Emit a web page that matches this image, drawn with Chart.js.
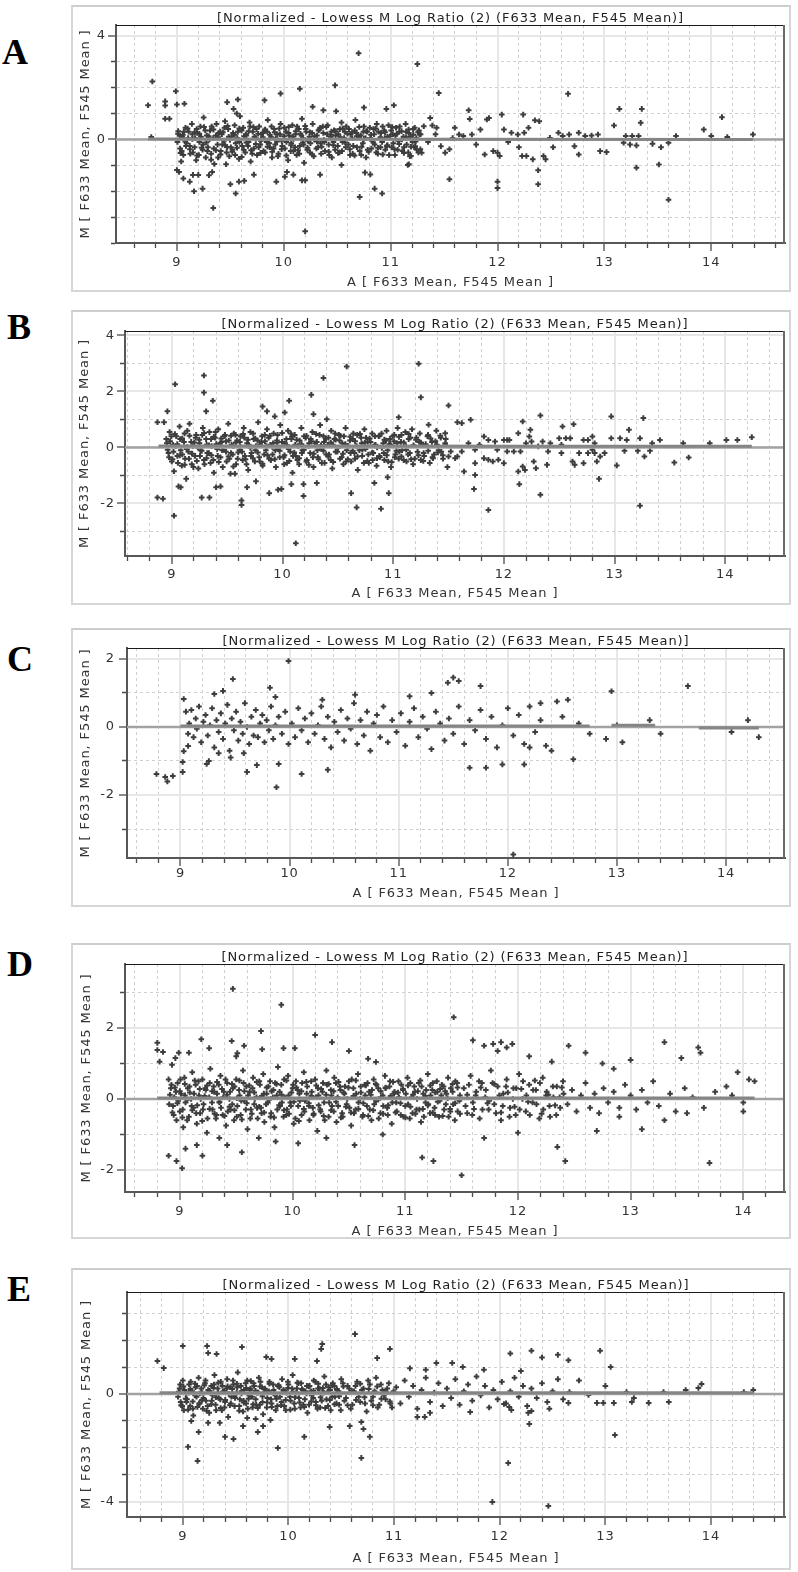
<!DOCTYPE html>
<html>
<head>
<meta charset="utf-8">
<script src="https://cdn.jsdelivr.net/npm/chart.js@4.4.1/dist/chart.umd.min.js"></script>
<style>
  html, body { margin: 0; padding: 0; background: #fff; }
  body { width: 798px; height: 1572px; position: relative; overflow: hidden; }
  .panel { position: absolute; left: 71px; width: 720px; }
  .panel canvas { position: absolute; left: 0; top: 0; }
  .frame { position: absolute; left: 0; top: 0; right: 0; bottom: 0; box-sizing: border-box;
           border: 2px solid #d6d6d6; border-top-color: #cdcdcd; pointer-events: none; }
  .letter { position: absolute; font: bold 36px "Liberation Serif", "Times New Roman", serif; line-height: 1; color: #000; }
</style>
</head>
<body>
<script>
// MA plots, five arrays (A-E): x = A value, y = M value
const TITLE = "[Normalized - Lowess M Log Ratio (2) (F633 Mean, F545 Mean)]";
const X_TITLE = "A [ F633 Mean, F545 Mean ]";
const Y_TITLE = "M [ F633 Mean, F545 Mean ]";
const panelLetters = ["A", "B", "C", "D", "E"];
const xTickLabels = [9, 10, 11, 12, 13, 14];
const yTickLabels = [[4, 0], [4, 2, 0, -2], [2, 0, -2, -4], [2, 0, -2], [0, -4]];
const xRanges = [[8.43, 14.69], [8.577, 14.54], [8.51, 14.54], [8.513, 14.37], [8.472, 14.7]];
const yRanges = [[-4, 4.42], [-3.875, 4.16], [-3.85, 2.32], [-2.62, 3.8], [-4.56, 3.78]];

const pointsA = [
  [8.73,1.32],[8.77,2.24],[8.76,0.09],[8.89,1.47],[8.89,1.31],[8.89,0.8],[8.93,0.8],[8.99,1.86],[9.0,1.35],[9.07,1.38],
  [9.47,1.44],[9.57,1.54],[9.53,1.18],[9.56,1.0],[9.82,1.51],[9.97,1.77],[10.15,1.96],[10.48,2.09],[10.7,3.33],[11.25,2.91],
  [10.27,1.26],[10.37,1.13],[10.49,1.09],[10.75,1.23],[10.96,1.18],[11.03,1.32],[11.45,1.79],[11.73,1.13],[12.66,1.76],
  [13.14,1.18],[13.35,1.18],[13.34,0.64],[13.09,0.54],[14.1,0.86],[13.93,0.38],[14.39,0.19],[14.15,0.09],[14.0,0.13],[13.67,0.13],
  [12.24,0.96],[12.04,0.96],[11.92,0.83],[12.39,0.7],[12.35,0.74],
  [9.0,-1.18],[9.02,-1.26],[9.06,-1.51],[9.12,-1.63],[9.15,-1.37],[9.2,-1.37],[9.16,-2.0],[9.24,-1.9],[9.3,-1.38],[9.33,-1.26],
  [9.34,-2.65],[9.46,-0.96],[9.5,-1.73],[9.55,-2.09],[9.58,-1.63],[9.63,-1.6],[9.72,-1.36],[9.93,-1.63],[10.01,-1.44],[10.03,-1.26],
  [10.09,-1.36],[10.17,-1.58],[10.2,-1.58],[10.2,-3.55],[10.34,-1.36],[10.54,-0.99],[10.71,-2.22],[10.76,-1.28],[10.81,-1.35],
  [10.85,-1.9],[10.92,-2.09],[11.16,-0.99],[11.55,-1.54],[12.0,-1.63],[12.0,-1.88],[12.38,-1.19],[12.38,-1.73],[13.02,-0.49],
  [13.3,-1.09],[13.51,-0.97],[13.6,-2.33],[13.6,-0.13],
  [13.2,0.13],[13.26,0.13],[13.32,0.13],[13.18,-0.13],[13.24,-0.2],[13.3,-0.23],[13.45,-0.17],[13.53,-0.3],[12.76,0.26],[12.82,0.13],
  [12.88,0.15],[12.94,0.19],[12.76,-0.58],[12.96,-0.45],[12.72,-0.26],[12.61,0.13],[12.67,0.19],[12.57,0.26],[12.49,0.06],[12.45,-0.77],
  [12.43,-0.64],[12.33,-0.77],[12.27,-0.64],[12.23,-0.64],[12.29,0.45],[12.25,0.26],[12.19,0.19],[12.13,0.26],[12.06,0.38],[12.0,-0.51],
  [12.02,-0.64],[11.96,-0.45],[11.88,-0.58],[11.84,0.38],[11.9,0.77],[11.74,0.79],[11.76,0.19],[11.68,0.13],[11.64,0.19],[11.6,0.45],
  [11.55,-0.38],[11.51,-0.51],[11.47,-0.26],[11.43,0.45],[11.39,0.54],[11.37,0.83],[11.31,0.51],[11.27,0.19],[11.29,-0.51],[11.23,-0.26],
  [11.19,-0.64],[11.17,-0.96],[12.1,-0.1],[12.52,-0.3],[11.8,-0.2],[11.58,0.05],[11.35,-0.1],[11.42,0.2],[12.2,-0.3],
  [9.01,0.22],[9.03,-0.35],[9.05,0.1],[9.06,-0.6],[9.08,0.45],[9.09,-0.15],[9.04,-0.85],
  [9.11,0.3],[9.12,-0.25],[9.14,0.6],[9.15,-0.5],[9.17,0.05],[9.18,-0.8],[9.19,0.25],
  [9.21,-0.1],[9.22,0.5],[9.24,-0.4],[9.25,0.85],[9.27,-0.7],[9.28,0.15],[9.29,-0.3],
  [9.31,0.35],[9.32,-0.55],[9.34,0.05],[9.35,-0.95],[9.37,0.6],[9.38,-0.2],[9.39,0.25],
  [9.41,-0.45],[9.42,0.2],[9.44,-0.05],[9.45,0.7],[9.47,-0.3],[9.48,0.4],[9.49,-0.65],
  [9.51,0.1],[9.52,-0.4],[9.54,0.55],[9.55,-0.15],[9.57,0.3],[9.58,-0.75],[9.59,0.9],
  [9.61,-0.25],[9.62,0.45],[9.64,-0.5],[9.65,0.15],[9.67,-0.1],[9.68,0.65],[9.69,-0.85],
  [9.71,0.3],[9.72,-0.35],[9.74,0.05],[9.75,-0.6],[9.77,0.5],[9.78,-0.2],[9.79,0.2],
  [9.81,-0.45],[9.82,0.35],[9.84,-0.1],[9.85,0.75],[9.87,-0.3],[9.88,0.1],[9.89,-0.7],
  [9.91,0.4],[9.92,-0.2],[9.94,0.2],[9.95,-0.55],[9.97,0.6],[9.98,-0.05],
  [10.01,-0.35],[10.02,0.3],[10.04,-0.8],[10.05,0.15],[10.07,-0.15],[10.08,0.55],[10.09,-0.45],
  [10.11,0.2],[10.12,-0.6],[10.14,0.4],[10.15,-0.25],[10.17,0.8],[10.18,0.05],[10.19,-0.9],
  [10.21,0.3],[10.22,-0.4],[10.24,0.1],[10.25,-0.15],[10.27,0.6],[10.28,-0.65],
  [10.31,0.15],[10.32,-0.3],[10.34,0.45],[10.35,-0.55],[10.37,0.25],[10.38,-0.1],
  [10.41,0.55],[10.42,-0.2],[10.44,0.1],[10.45,-0.7],[10.47,0.35],[10.48,-0.4],
  [10.51,0.2],[10.52,-0.5],[10.54,0.65],[10.55,-0.1],[10.57,0.3],[10.58,-0.3],
  [10.61,0.4],[10.62,-0.6],[10.64,0.05],[10.65,-0.25],[10.67,0.75],[10.68,0.25],
  [10.71,-0.45],[10.72,0.15],[10.74,-0.15],[10.75,0.5],[10.77,-0.7],[10.78,0.3],
  [10.81,0.05],[10.82,-0.35],[10.84,0.4],[10.85,-0.2],[10.87,0.6],[10.88,-0.55],
  [10.91,0.25],[10.92,-0.1],[10.94,0.35],[10.95,-0.4],[10.97,0.1],[10.98,0.55],
  [11.01,-0.3],[11.02,0.2],[11.04,-0.6],[11.05,0.45],[11.07,-0.05],[11.08,0.3],
  [11.11,-0.45],[11.12,0.1],[11.14,0.6],[11.15,-0.2],[11.17,0.25],[11.18,-0.65],
  [11.21,0.4],[11.22,-0.3],[11.24,0.05],[11.26,-0.5],[11.28,0.2]
];
const denseA = [
  [9.005,-0.1],[9.025,0.15],[9.045,-0.45],[9.065,0.3],[9.085,-0.25],[9.105,0.05],[9.125,-0.55],[9.145,0.2],[9.165,-0.3],[9.185,0.4],
  [9.205,-0.6],[9.225,0.1],[9.245,-0.2],[9.265,0.35],[9.285,-0.45],[9.305,0.0],[9.325,0.5],[9.345,-0.35],[9.365,0.15],[9.385,-0.7],
  [9.405,0.3],[9.425,-0.2],[9.445,0.45],[9.465,-0.5],[9.485,0.1],[9.505,-0.3],[9.525,0.25],[9.545,-0.6],[9.565,0.05],[9.585,-0.1],
  [9.605,0.35],[9.625,-0.4],[9.645,0.2],[9.665,-0.25],[9.685,0.5],[9.705,-0.55],[9.725,0.1],[9.745,0.4],[9.765,-0.3],[9.785,-0.05],
  [9.805,0.25],[9.825,-0.5],[9.845,0.3],[9.865,-0.15],[9.885,0.5],[9.905,-0.35],[9.925,0.05],[9.945,-0.65],[9.965,0.2],[9.985,-0.25],
  [10.005,0.45],[10.025,-0.1],[10.045,0.25],[10.065,-0.45],[10.085,0.1],[10.105,-0.3],[10.125,0.5],[10.145,-0.55],[10.165,0.15],[10.185,-0.2],
  [10.205,0.4],[10.225,-0.05],[10.245,-0.5],[10.265,0.25],[10.285,0.0],[10.305,-0.35],[10.325,0.35],[10.345,-0.15],[10.365,0.5],[10.385,-0.45],
  [10.405,0.2],[10.425,-0.6],[10.445,0.3],[10.465,-0.1],[10.485,0.15],[10.505,-0.25],[10.525,0.4],[10.545,-0.45],[10.565,0.05],[10.585,0.5],
  [10.605,-0.2],[10.625,0.2],[10.645,-0.55],[10.665,0.35],[10.685,-0.3],[10.705,0.1],[10.725,-0.6],[10.745,0.3],[10.765,0.05],[10.785,-0.4],
  [10.805,0.45],[10.825,-0.05],[10.845,0.2],[10.865,-0.5],[10.885,0.3],[10.905,-0.3],[10.925,0.5],[10.945,0.05],[10.965,-0.25],[10.985,-0.6],
  [11.005,0.35],[11.025,-0.15],[11.045,0.15],[11.065,-0.4],[11.085,0.5],[11.105,0.0],[11.125,-0.3],[11.145,0.3],[11.165,-0.5],[11.185,0.1],
  [11.205,-0.1],[11.225,0.45],[11.245,-0.4],[11.265,0.35],
  [9.012,0.32],[9.034,-0.52],[9.056,0.18],[9.078,-0.08],[9.1,0.42],[9.122,-0.38],[9.144,0.02],[9.166,0.28],[9.188,-0.62],[9.21,0.22],
  [9.232,-0.32],[9.254,0.48],[9.276,-0.12],[9.298,0.12],[9.32,-0.78],[9.342,0.38],[9.364,-0.42],[9.386,0.08],[9.408,-0.58],[9.43,0.28],
  [9.452,-0.22],[9.474,0.52],[9.496,-0.02],[9.518,-0.48],[9.54,0.18],[9.562,-0.32],[9.584,0.42],[9.606,-0.68],[9.628,0.12],[9.65,-0.12],
  [9.672,0.32],[9.694,-0.42],[9.716,0.48],[9.738,-0.18],[9.76,0.22],[9.782,-0.52],[9.804,0.08],[9.826,0.38],[9.848,-0.28],[9.87,0.18],
  [9.892,-0.48],[9.914,0.28],[9.936,-0.08],[9.958,0.42],[9.98,-0.38],[10.002,0.12],[10.024,-0.62],[10.046,0.48],[10.068,-0.22],[10.09,0.02],
  [10.112,0.32],[10.134,-0.42],[10.156,0.22],[10.178,-0.12],[10.2,0.52],[10.222,-0.32],[10.244,0.28],[10.266,-0.58],[10.288,0.12],[10.31,-0.08],
  [10.332,0.38],[10.354,-0.28],[10.376,-0.02],[10.398,0.48],[10.42,-0.48],[10.442,0.18],[10.464,-0.22],[10.486,0.32],[10.508,-0.52],[10.53,0.08],
  [10.552,0.42],[10.574,-0.12],[10.596,0.22],[10.618,-0.38],[10.64,0.28],[10.662,-0.62],[10.684,0.12],[10.706,0.48],[10.728,-0.28],[10.75,0.02],
  [10.772,0.32],[10.794,-0.48],[10.816,0.18],[10.838,-0.12],[10.86,0.42],[10.882,-0.32],[10.904,0.08],[10.926,-0.58],[10.948,0.28],[10.97,-0.22],
  [10.992,0.12],[11.014,0.48],[11.036,-0.38],[11.058,0.22],[11.08,-0.18],[11.102,0.32],[11.124,-0.52],[11.146,0.08],[11.168,0.38],[11.19,-0.28],
  [11.212,0.18],[11.234,-0.08],[11.256,0.28],[11.278,-0.38]
];

const pointsB = [
  [8.87,0.9],[8.93,0.9],[8.96,1.29],[9.03,2.26],[8.87,-1.79],[8.92,-1.83],[9.02,-2.44],[9.06,-1.39],[9.08,-1.42],[9.13,-1.12],
  [9.29,2.57],[9.29,1.96],[9.31,1.29],[9.37,1.67],[9.27,-1.79],[9.34,-1.79],[9.4,-1.42],[9.44,-1.39],[9.53,-0.94],[9.57,-0.94],
  [9.63,-1.89],[9.63,-2.05],[9.68,-1.42],[9.76,-1.21],[9.82,1.46],[9.86,1.29],[9.88,-1.63],[9.93,1.11],[9.96,-1.51],[9.99,-1.48],
  [10.02,1.25],[10.06,1.67],[10.08,-1.31],[10.12,-3.42],[10.19,-1.73],[10.19,-1.31],[10.26,1.88],[10.28,1.19],[10.31,-1.27],[10.37,2.48],
  [10.4,1.01],[10.58,2.89],[10.62,-1.63],[10.67,-2.14],[10.83,-1.27],[10.89,-2.19],[10.95,-1.06],[10.96,-1.63],[11.05,1.08],[11.23,2.99],
  [11.25,1.79],[11.32,0.81],[11.5,1.5],[11.62,0.87],[11.7,0.99],[11.73,-1.48],[11.74,-0.98],[11.86,-2.23],[12.14,-1.31],[12.17,0.93],
  [12.24,0.63],[12.33,1.14],[12.33,-1.69],[12.53,0.75],[12.63,0.83],[12.86,-1.12],[12.97,1.11],[13.02,-0.64],[13.13,0.63],[13.23,-2.08],
  [13.26,1.05],[13.54,-0.54],[13.67,-0.36],[14.01,0.27],[14.11,0.27],[14.24,0.37],[13.86,0.15],[13.62,0.15],[13.41,0.27],[13.34,0.15],
  [13.23,0.33],[13.11,0.27],[13.05,0.33],[12.97,0.33],[13.27,-0.32],[13.21,-0.12],[13.32,-0.12],[13.09,-0.12],[12.91,-0.2],[12.87,-0.32],
  [12.84,-0.5],[12.82,-0.2],
  [11.58,0.9],[11.47,0.51],[11.5,-0.32],[11.56,-0.38],[11.52,-0.14],[11.64,-0.86],[11.82,0.39],[11.86,0.27],[11.92,0.21],[12.0,0.27],
  [12.03,0.27],[12.05,0.27],[11.94,-0.08],[12.03,-0.14],[12.09,-0.14],[12.15,-0.14],[11.9,-0.5],[11.86,-0.44],[11.95,-0.44],[12.0,-0.56],
  [12.13,-0.86],[12.17,-0.68],[12.19,-0.8],[12.29,-0.74],[12.27,-0.5],[12.39,-0.62],[12.4,-0.14],[12.42,0.15],[12.5,0.33],[12.56,0.33],
  [12.6,0.33],[12.52,0.1],[12.62,-0.5],[12.64,-0.62],[12.72,-0.56],[12.72,0.27],[12.76,0.27],[12.8,0.39],[12.82,0.15],[12.68,-0.2],
  [12.76,-0.2],[12.8,-0.08],[12.52,-0.2],[12.23,0.39],[12.2,0.15],[12.25,0.21],[12.35,0.21],[12.31,0.04],[12.13,0.51],[11.74,-0.08],
  [11.68,0.15],[11.78,0.1],[11.62,-0.14],[11.58,-0.32],[11.82,-0.38],[11.74,-0.56],
  [8.95,0.3],[8.97,-0.2],[8.98,0.55],[9.0,-0.5],[9.01,0.1],[9.02,-0.85],[9.04,0.4],[9.05,-0.3],[9.07,0.75],[9.08,-0.1],[9.09,-0.65],
  [9.11,0.2],[9.12,-0.4],[9.14,0.6],[9.15,-0.15],[9.16,0.85],[9.18,-0.6],[9.19,0.05],
  [9.21,-0.3],[9.22,0.45],[9.24,-0.75],[9.25,0.15],[9.26,-0.1],[9.28,0.7],[9.29,-0.45],
  [9.31,0.3],[9.32,-0.2],[9.34,0.55],[9.35,-0.55],[9.36,0.05],[9.38,-0.9],[9.39,0.35],
  [9.41,-0.05],[9.42,0.65],[9.44,-0.35],[9.45,0.2],[9.46,-0.7],[9.48,0.45],[9.49,-0.15],
  [9.51,0.85],[9.52,-0.4],[9.54,0.1],[9.55,-0.25],[9.56,0.5],[9.58,-0.6],[9.59,0.25],
  [9.61,-0.1],[9.62,0.4],[9.64,-0.45],[9.65,0.7],[9.66,-0.3],[9.68,0.15],[9.69,-0.8],
  [9.71,0.55],[9.72,-0.2],[9.74,0.3],[9.75,-0.5],[9.76,0.05],[9.78,0.9],[9.79,-0.35],
  [9.81,0.2],[9.82,-0.65],[9.84,0.45],[9.85,-0.1],[9.86,0.65],[9.88,-0.4],[9.89,0.1],
  [9.91,-0.25],[9.92,0.5],[9.94,-0.7],[9.95,0.25],[9.96,-0.05],[9.98,0.8],
  [10.01,-0.35],[10.02,0.15],[10.04,-0.55],[10.05,0.6],[10.07,-0.15],[10.08,0.3],[10.09,-0.9],
  [10.11,0.45],[10.12,-0.3],[10.14,0.05],[10.15,-0.6],[10.17,0.7],[10.18,-0.1],
  [10.21,0.35],[10.22,-0.45],[10.24,0.15],[10.25,-0.2],[10.27,0.55],[10.28,-0.7],
  [10.31,0.2],[10.32,-0.35],[10.34,0.8],[10.35,-0.05],[10.37,0.4],[10.38,-0.55],
  [10.41,0.1],[10.42,-0.25],[10.44,0.6],[10.45,-0.75],[10.47,0.3],[10.48,-0.15],
  [10.51,0.45],[10.52,-0.4],[10.54,0.15],[10.55,-0.6],[10.57,0.7],[10.58,-0.1],
  [10.61,0.25],[10.62,-0.5],[10.64,0.5],[10.65,-0.2],[10.67,0.05],[10.68,-0.8],
  [10.71,0.35],[10.72,-0.3],[10.74,0.65],[10.75,-0.05],[10.77,0.2],[10.78,-0.55],
  [10.81,0.5],[10.82,-0.2],[10.84,0.1],[10.85,-0.65],[10.87,0.4],[10.88,-0.35],
  [10.91,0.15],[10.92,-0.45],[10.94,0.6],[10.95,-0.1],[10.97,0.3],[10.98,-0.7],
  [11.01,0.45],[11.02,-0.25],[11.04,0.7],[11.05,-0.4],[11.07,0.2],[11.08,-0.1],
  [11.11,0.55],[11.12,-0.5],[11.14,0.3],[11.15,-0.2],[11.17,0.65],[11.18,-0.6],
  [11.21,0.35],[11.22,-0.15],[11.24,0.5],[11.25,-0.45],[11.27,0.1],[11.28,-0.3],
  [11.31,0.4],[11.33,-0.55],[11.35,0.2],[11.37,-0.25],[11.39,0.6],
  [11.41,-0.1],[11.43,0.35],[11.45,-0.4],[11.47,0.15],[11.49,-0.7]
];
const denseB = [
  [8.955,0.15],[8.975,-0.35],[8.995,0.4],[9.015,-0.15],[9.035,0.05],[9.055,-0.55],[9.075,0.3],[9.095,-0.25],[9.115,0.5],[9.135,-0.05],
  [9.155,-0.4],[9.175,0.2],[9.195,-0.7],[9.215,0.35],[9.235,0.0],[9.255,-0.3],[9.275,0.45],[9.295,-0.6],[9.315,0.1],[9.335,-0.2],
  [9.355,0.3],[9.375,-0.45],[9.395,0.55],[9.415,-0.3],[9.435,0.15],[9.455,-0.1],[9.475,0.4],[9.495,-0.5],[9.515,0.25],[9.535,-0.2],
  [9.555,0.05],[9.575,0.45],[9.595,-0.4],[9.615,0.2],[9.635,-0.15],[9.655,0.35],[9.675,-0.6],[9.695,0.1],[9.715,-0.3],[9.735,0.5],
  [9.755,-0.1],[9.775,0.25],[9.795,-0.5],[9.815,0.4],[9.835,-0.25],[9.855,0.05],[9.875,0.35],[9.895,-0.45],[9.915,0.15],[9.935,-0.1],
  [9.955,0.45],[9.975,-0.35],[9.995,0.2],[10.015,-0.6],[10.035,0.3],[10.055,-0.05],[10.075,0.5],[10.095,-0.3],[10.115,0.1],[10.135,-0.45],
  [10.155,0.25],[10.175,-0.2],[10.195,0.4],[10.215,-0.5],[10.235,0.05],[10.255,0.3],[10.275,-0.35],[10.295,0.15],[10.315,-0.1],[10.335,0.45],
  [10.355,-0.55],[10.375,0.2],[10.395,-0.25],[10.415,0.35],[10.435,-0.45],[10.455,0.1],[10.475,0.5],[10.495,-0.15],[10.515,0.25],[10.535,-0.35],
  [10.555,0.4],[10.575,-0.5],[10.595,0.05],[10.615,-0.2],[10.635,0.3],[10.655,-0.4],[10.675,0.45],[10.695,-0.1],[10.715,0.15],[10.735,-0.55],
  [10.755,0.35],[10.775,-0.25],[10.795,0.2],[10.815,-0.45],[10.835,0.4],[10.855,0.0],[10.875,-0.3],[10.895,0.5],[10.915,-0.2],[10.935,0.25],
  [10.955,-0.5],[10.975,0.1],[10.995,0.4],[11.015,-0.35],[11.035,0.15],[11.055,-0.15],[11.075,0.45],[11.095,-0.45],[11.115,0.05],[11.135,-0.25],
  [11.155,0.35],[11.195,-0.4],[11.235,0.2],[11.275,-0.2],[11.315,0.45],[11.355,-0.35],[11.395,0.1],[11.435,-0.15],[11.475,0.3],
  [8.962,-0.08],[8.984,0.22],[9.006,-0.42],[9.028,0.48],[9.05,0.12],[9.072,-0.28],[9.094,0.32],[9.116,-0.62],[9.138,0.02],[9.16,0.42],
  [9.182,-0.22],[9.204,0.18],[9.226,-0.48],[9.248,0.28],[9.27,-0.12],[9.292,0.52],[9.314,-0.38],[9.336,0.08],[9.358,-0.28],[9.38,0.38],
  [9.402,0.12],[9.424,-0.52],[9.446,0.32],[9.468,-0.08],[9.49,0.22],[9.512,-0.32],[9.534,0.42],[9.556,-0.68],[9.578,0.18],[9.6,-0.18],
  [9.622,0.02],[9.644,0.48],[9.666,-0.42],[9.688,0.28],[9.71,-0.02],[9.732,-0.38],[9.754,0.32],[9.776,-0.18],[9.798,0.12],[9.82,-0.58],
  [9.842,0.22],[9.864,-0.28],[9.886,0.42],[9.908,0.02],[9.93,-0.42],[9.952,0.18],[9.974,-0.12],[9.996,0.52],[10.018,-0.28],[10.04,0.08],
  [10.062,-0.48],[10.084,0.38],[10.106,-0.18],[10.128,0.28],[10.15,-0.38],[10.172,0.12],[10.194,-0.08],[10.216,0.42],[10.238,-0.62],[10.26,0.22],
  [10.282,-0.22],[10.304,0.48],[10.326,-0.42],[10.348,0.08],[10.37,-0.12],[10.392,0.32],[10.414,-0.32],[10.436,0.18],[10.458,-0.52],[10.48,0.28],
  [10.502,-0.02],[10.524,0.42],[10.546,-0.22],[10.568,0.12],[10.59,-0.42],[10.612,0.38],[10.634,-0.12],[10.656,0.22],[10.678,-0.32],[10.7,0.48],
  [10.722,-0.08],[10.744,0.18],[10.766,-0.48],[10.788,0.32],[10.81,-0.18],[10.832,0.08],[10.854,-0.38],[10.876,0.42],[10.898,-0.02],[10.92,0.28],
  [10.942,-0.28],[10.964,0.12],[10.986,-0.52],[11.008,0.22],[11.03,-0.12],[11.052,0.38],[11.074,-0.32],[11.096,0.18],[11.118,-0.08],[11.14,0.48],
  [11.162,-0.42],[11.184,0.08],[11.206,0.28],[11.228,-0.28],[11.25,0.18],[11.272,-0.48],[11.294,0.12],[11.316,-0.12],[11.338,0.32],[11.36,-0.38],
  [11.382,0.22],[11.404,-0.18],[11.426,0.42],[11.448,-0.28],[11.47,0.08]
];

const pointsC = [
  [8.78,-1.38],[8.86,-1.47],[8.88,-1.6],[8.93,-1.44],[9.02,-1.32],[9.02,-1.03],[9.03,-0.71],[9.07,-0.56],[9.03,0.82],[9.48,1.41],
  [9.39,1.06],[9.31,0.97],[9.99,1.94],[9.82,1.15],[9.87,0.88],[9.26,-1.0],[9.24,-1.09],[9.35,-0.77],[9.61,-1.32],[9.7,-1.12],
  [9.88,-1.77],[9.9,-1.09],[10.11,-1.38],[10.35,-1.26],[9.46,-0.9],[9.58,-0.77],
  [11.5,1.45],[11.55,1.35],[11.75,1.2],[11.45,1.3],[11.8,-1.2],[11.65,-1.2],[11.95,-1.1],[12.05,-3.75],[12.3,0.7],[12.45,0.75],
  [12.55,0.8],[12.4,-0.7],[12.6,-0.95],[12.35,-0.55],[12.15,-1.1],[12.75,-0.2],[12.9,-0.35],[12.95,1.05],[13.05,-0.45],[13.3,0.2],
  [13.4,-0.2],[13.65,1.2],[14.05,-0.15],[14.2,0.2],[14.3,-0.3],[13.0,0.05],[12.5,0.3],[12.65,0.1],[12.2,-0.6],[11.1,0.9],
  [10.6,0.95],[10.3,0.8],[11.3,1.0],
  [9.05,0.45],[9.07,-0.2],[9.08,0.1],[9.1,0.5],[9.12,-0.3],[9.14,0.25],[9.15,-0.05],[9.17,0.6],[9.19,-0.45],[9.21,0.15],
  [9.23,0.35],[9.25,-0.25],[9.27,0.05],[9.29,0.55],[9.31,-0.6],[9.33,0.2],[9.35,-0.15],[9.37,0.4],[9.39,-0.35],[9.41,0.1],
  [9.43,0.65],[9.45,-0.7],[9.47,0.25],[9.49,-0.1],[9.51,0.45],[9.53,-0.4],[9.55,0.15],[9.57,-0.2],[9.59,0.7],[9.61,0.0],
  [9.63,-0.5],[9.65,0.3],[9.67,-0.25],[9.69,0.5],[9.71,-0.3],[9.73,0.1],[9.75,0.35],[9.77,-0.45],[9.79,0.2],[9.81,-0.1],
  [9.83,0.6],[9.85,-0.35],[9.87,0.05],[9.9,0.3],[9.93,-0.2],[9.96,0.45],[9.99,-0.5],[10.02,0.1],[10.05,-0.3],[10.08,0.55],
  [10.11,-0.1],[10.14,0.25],[10.17,-0.45],[10.2,0.4],[10.23,-0.2],[10.26,0.05],[10.29,0.6],[10.32,-0.35],[10.35,0.3],[10.38,-0.6],
  [10.41,0.15],[10.44,-0.15],[10.47,0.5],[10.5,-0.4],[10.53,0.25],[10.56,-0.05],[10.59,0.7],[10.62,-0.5],[10.65,0.2],[10.68,-0.25],
  [10.71,0.45],[10.74,-0.7],[10.77,0.1],[10.8,0.35],[10.83,-0.3],[10.86,0.6],[10.9,-0.45],[10.94,0.2],[10.98,-0.15],[11.02,0.4],
  [11.06,-0.55],[11.1,0.15],[11.14,0.55],[11.18,-0.3],[11.22,0.3],[11.26,-0.05],[11.3,-0.65],[11.34,0.45],[11.38,0.1],[11.42,-0.4],
  [11.46,0.25],[11.5,-0.2],[11.55,0.6],[11.6,-0.5],[11.65,0.2],[11.7,-0.1],[11.75,0.5],[11.8,-0.35],[11.85,0.3],[11.9,-0.6],
  [11.95,0.05],[12.0,0.55],[12.05,-0.25],[12.1,0.35],[12.15,-0.5],[12.2,0.6],[12.25,-0.15],[12.3,0.2]
];
const denseC = [];

const pointsD = [
  [8.8,1.58],[8.8,1.38],[8.85,1.32],[8.82,1.05],[8.9,0.55],[8.93,0.96],[8.96,1.15],[8.99,1.3],[9.08,1.3],[9.19,1.68],
  [9.26,1.43],[9.46,1.63],[9.47,3.1],[9.57,1.5],[9.51,1.29],[9.5,1.2],[9.72,1.91],[9.73,1.4],[9.9,2.65],[9.92,1.43],
  [10.02,1.43],[10.2,1.8],[10.35,1.6],[10.5,1.35],[10.67,1.13],[10.74,1.04],[11.43,2.3],
  [11.6,1.65],[11.7,1.5],[11.78,1.55],[11.85,1.6],[11.9,1.45],[11.95,1.55],[11.82,1.35],[12.1,1.2],[12.3,1.05],[12.45,1.5],
  [12.6,1.3],[12.75,1.0],[12.85,0.85],[13.0,1.1],[13.3,1.6],[13.45,1.15],[13.6,1.45],[13.62,1.3],[13.95,0.75],[14.05,0.55],
  [13.85,0.35],[14.1,0.5],
  [8.9,-1.6],[8.97,-1.75],[9.02,-1.95],[9.05,-1.4],[9.15,-1.3],[9.2,-1.6],[9.35,-1.1],[9.42,-1.3],[9.55,-1.5],[9.7,-1.1],
  [9.85,-1.2],[10.05,-1.25],[10.3,-1.1],[10.55,-1.3],[10.8,-1.0],[11.15,-1.65],[11.25,-1.75],[11.5,-2.15],[11.7,-1.1],[12.0,-0.95],
  [12.35,-1.35],[12.42,-1.75],[12.7,-0.9],[13.1,-0.85],[13.3,-0.6],[13.7,-1.8],[14.0,-0.35],[13.5,-0.4],[12.9,-0.5],
  [8.92,0.3],[8.94,-0.2],[8.95,0.05],[8.97,-0.6],[8.98,0.45],[9.0,-0.35],[9.01,0.15],[9.03,-0.8],[9.04,0.6],[9.05,-0.1],
  [9.07,0.3],[9.08,-0.5],[9.1,0.0],[9.11,0.75],[9.12,-0.25],[9.14,0.4],[9.15,-0.7],[9.17,0.1],[9.18,-0.4],[9.2,0.55],
  [9.21,-0.15],[9.23,0.25],[9.24,-0.95],[9.26,0.05],[9.27,0.85],[9.29,-0.3],[9.3,0.35],[9.32,-0.55],[9.33,0.15],[9.35,-0.1],
  [9.36,0.65],[9.38,-0.45],[9.39,0.2],[9.41,-0.75],[9.42,0.45],[9.44,0.0],[9.45,-0.3],[9.47,0.3],[9.48,-0.6],[9.5,0.55],
  [9.51,-0.2],[9.53,0.1],[9.54,-0.45],[9.56,0.8],[9.57,-0.05],[9.59,0.35],[9.6,-0.85],[9.62,0.2],[9.63,-0.3],[9.65,0.6],
  [9.66,-0.15],[9.68,0.05],[9.69,-0.55],[9.71,0.4],[9.72,-0.25],[9.74,0.7],[9.75,-0.65],[9.77,0.15],[9.78,-0.1],[9.8,0.5],
  [9.81,-0.4],[9.83,0.25],[9.84,-0.8],[9.86,0.1],[9.87,0.9],[9.89,-0.2],[9.9,0.4],[9.92,-0.5],[9.93,0.05],[9.95,-0.3],
  [9.96,0.65],[9.98,-0.1],[10.0,0.3],[10.01,-0.7],[10.03,0.5],[10.05,-0.2],[10.06,0.15],[10.08,-0.45],[10.1,0.75],[10.11,-0.05],
  [10.13,0.35],[10.15,-0.6],[10.17,0.2],[10.18,-0.25],[10.2,0.55],[10.22,-0.9],[10.23,0.1],[10.25,-0.35],[10.27,0.45],[10.28,-0.1],
  [10.3,0.8],[10.32,-0.5],[10.34,0.25],[10.35,-0.2],[10.37,0.6],[10.39,-0.65],[10.4,0.05],[10.42,0.35],[10.44,-0.4],[10.46,0.15],
  [10.48,-0.15],[10.5,0.5],[10.52,-0.75],[10.54,0.3],[10.56,-0.3],[10.58,0.7],[10.6,0.0],[10.62,-0.5],[10.64,0.4],[10.66,-0.2],
  [10.68,0.2],[10.7,-0.6],[10.72,0.55],[10.74,-0.05],[10.76,0.3],[10.78,-0.4],[10.8,0.1],[10.82,0.65],[10.84,-0.25],[10.86,0.35],
  [10.88,-0.7],[10.9,0.15],[10.92,-0.1],[10.94,0.5],[10.96,-0.45],[10.98,0.25],[11.0,-0.2],[11.02,0.6],[11.04,-0.55],[11.06,0.05],
  [11.08,0.35],[11.1,-0.3],[11.12,0.45],[11.14,-0.65],[11.16,0.15],[11.18,-0.1],[11.2,0.7],[11.22,-0.4],[11.24,0.25],[11.26,-0.25],
  [11.28,0.5],[11.3,-0.5],[11.32,0.1],[11.34,0.35],[11.36,-0.15],[11.38,0.6],[11.4,-0.35],[11.42,0.2],[11.44,-0.6],[11.46,0.45],
  [11.48,-0.05],
  [11.52,0.3],[11.55,-0.4],[11.58,0.65],[11.6,-0.1],[11.63,0.2],[11.66,-0.55],[11.68,0.45],[11.71,0.05],[11.74,-0.3],[11.76,0.8],
  [11.79,-0.15],[11.82,0.35],[11.85,-0.6],[11.87,0.15],[11.9,0.55],[11.93,-0.25],[11.96,0.3],[11.98,-0.45],[12.01,0.7],[12.04,0.0],
  [12.07,-0.35],[12.1,0.4],[12.13,-0.1],[12.16,0.25],[12.19,-0.55],[12.22,0.6],[12.25,0.1],[12.28,-0.2],[12.31,0.35],[12.34,-0.45],
  [12.37,0.05],[12.4,0.5],[12.44,-0.15],[12.48,0.25],[12.52,-0.35],[12.56,0.1],[12.6,0.45],[12.64,-0.25],[12.68,0.15],[12.72,-0.4],
  [12.76,0.3],[12.8,-0.1],
  [12.85,0.2],[12.9,-0.25],[12.95,0.4],[13.0,0.1],[13.05,-0.3],[13.1,0.25],[13.15,-0.1],[13.2,0.5],[13.25,-0.2],[13.35,0.15],
  [13.4,-0.35],[13.48,0.3],[13.55,0.05],[13.65,-0.25],[13.75,0.2],[13.9,0.1],[14.0,-0.1]
];
const denseD = [
  [8.905,-0.15],[8.925,0.4],[8.945,-0.45],[8.965,0.2],[8.985,-0.05],[9.005,0.55],[9.025,-0.3],[9.045,0.1],[9.065,-0.6],[9.085,0.35],
  [9.105,-0.2],[9.125,0.15],[9.145,-0.4],[9.165,0.5],[9.185,0.0],[9.205,-0.3],[9.225,0.3],[9.245,-0.55],[9.265,0.45],[9.285,-0.1],
  [9.305,0.2],[9.325,-0.45],[9.345,0.4],[9.365,-0.25],[9.385,0.05],[9.405,0.55],[9.425,-0.35],[9.445,0.2],[9.465,-0.15],[9.485,0.35],
  [9.505,-0.5],[9.525,0.25],[9.545,-0.05],[9.565,0.45],[9.585,-0.3],[9.605,0.1],[9.625,-0.55],[9.645,0.3],[9.665,0.0],[9.685,-0.25],
  [9.705,0.5],[9.725,-0.4],[9.745,0.15],[9.765,-0.15],[9.785,0.35],[9.805,-0.5],[9.825,0.05],[9.845,0.45],[9.865,-0.3],[9.885,0.2],
  [9.905,-0.1],[9.925,0.55],[9.945,-0.45],[9.965,0.1],[9.985,-0.2],[10.005,0.4],[10.025,-0.55],[10.045,0.25],[10.065,-0.05],[10.085,0.45],
  [10.105,-0.35],[10.125,0.15],[10.145,-0.2],[10.165,0.5],[10.185,-0.45],[10.205,0.05],[10.225,0.3],[10.245,-0.3],[10.265,0.2],[10.285,-0.6],
  [10.305,0.4],[10.325,-0.1],[10.345,0.1],[10.365,-0.35],[10.385,0.45],[10.405,-0.2],[10.425,0.25],[10.445,-0.5],[10.465,0.35],[10.485,0.0],
  [10.505,-0.25],[10.525,0.55],[10.545,-0.4],[10.565,0.15],[10.585,-0.1],[10.605,0.35],[10.625,-0.45],[10.645,0.1],[10.665,0.45],[10.685,-0.3],
  [10.705,0.25],[10.725,-0.15],[10.745,0.4],[10.765,-0.55],[10.785,0.05],[10.805,-0.2],[10.825,0.3],[10.845,-0.45],[10.865,0.5],[10.885,-0.1],
  [10.905,0.2],[10.925,-0.35],[10.945,0.05],[10.965,0.4],[10.985,-0.5],[11.005,0.15],[11.025,-0.15],[11.045,0.45],[11.065,-0.4],[11.085,0.2],
  [11.105,0.0],[11.125,-0.3],[11.145,0.35],[11.165,-0.5],[11.185,0.25],[11.205,-0.15],[11.225,0.1],[11.245,0.45],[11.265,-0.45],[11.285,0.2],
  [11.305,-0.05],[11.325,0.4],[11.345,-0.3],[11.365,0.15],[11.385,-0.5],[11.405,0.3],[11.425,-0.15],[11.445,0.5],[11.465,-0.35],[11.485,0.1],
  [11.535,-0.2],[11.565,0.4],[11.595,-0.45],[11.625,0.1],[11.655,0.5],[11.685,-0.3],[11.715,0.25],[11.745,-0.05],[11.775,0.45],[11.805,-0.4],
  [11.835,0.1],[11.865,-0.2],[11.895,0.35],[11.925,-0.5],[11.955,0.0],[11.985,0.3],[12.015,-0.3],[12.045,0.5],[12.075,0.1],[12.105,-0.45],
  [12.135,0.25],[12.165,-0.15],[12.195,0.45],[12.225,-0.3],[12.255,0.2],[12.285,-0.5],[12.315,0.05],[12.345,0.35],[12.375,-0.25],[12.405,0.15],
  [8.912,0.12],[8.934,-0.38],[8.956,0.32],[8.978,-0.12],[9.0,0.22],[9.022,-0.52],[9.044,0.42],[9.066,-0.02],[9.088,0.18],[9.11,-0.32],
  [9.132,0.52],[9.154,-0.18],[9.176,0.28],[9.198,-0.62],[9.22,0.08],[9.242,0.38],[9.264,-0.28],[9.286,0.22],[9.308,-0.42],[9.33,0.48],
  [9.352,-0.08],[9.374,0.28],[9.396,-0.48],[9.418,0.12],[9.44,-0.22],[9.462,0.42],[9.484,-0.32],[9.506,0.02],[9.528,0.52],[9.55,-0.58],
  [9.572,0.22],[9.594,-0.12],[9.616,0.38],[9.638,-0.42],[9.66,0.18],[9.682,0.48],[9.704,-0.22],[9.726,0.08],[9.748,-0.38],[9.77,0.32],
  [9.792,-0.02],[9.814,0.22],[9.836,-0.52],[9.858,0.42],[9.88,-0.18],[9.902,0.12],[9.924,-0.32],[9.946,0.52],[9.968,-0.42],[9.99,0.18],
  [10.012,-0.08],[10.034,0.32],[10.056,-0.62],[10.078,0.22],[10.1,-0.28],[10.122,0.48],[10.144,-0.12],[10.166,0.08],[10.188,-0.42],[10.21,0.38],
  [10.232,-0.18],[10.254,0.28],[10.276,-0.48],[10.298,0.12],[10.32,0.42],[10.342,-0.32],[10.364,0.22],[10.386,-0.08],[10.408,0.48],[10.43,-0.52],
  [10.452,0.18],[10.474,-0.22],[10.496,0.32],[10.518,-0.38],[10.54,0.08],[10.562,0.52],[10.584,-0.28],[10.606,0.18],[10.628,-0.12],[10.65,0.38],
  [10.672,-0.48],[10.694,0.12],[10.716,-0.32],[10.738,0.42],[10.76,-0.02],[10.782,0.22],[10.804,-0.42],[10.826,0.32],[10.848,-0.18],[10.87,0.08],
  [10.892,0.48],[10.914,-0.38],[10.936,0.18],[10.958,-0.12],[10.98,0.28],[11.002,-0.52],[11.024,0.38],[11.046,-0.22],[11.068,0.12],[11.09,-0.42],
  [11.112,0.22],[11.134,0.52],[11.156,-0.28],[11.178,0.08],[11.2,-0.18],[11.222,0.38],[11.244,-0.38],[11.266,0.18],[11.288,-0.08],[11.31,0.28],
  [11.332,-0.48],[11.354,0.22],[11.376,0.02],[11.398,-0.28],[11.42,0.42],[11.442,-0.12],[11.464,0.32],[11.486,-0.42],
  [11.55,0.12],[11.61,-0.28],[11.67,0.32],[11.73,-0.12],[11.79,0.42],[11.85,-0.38],[11.91,0.18],[11.97,-0.22],[12.03,0.28],[12.09,-0.08],
  [12.15,0.52],[12.21,-0.42],[12.27,0.12],[12.33,-0.18],[12.39,0.32]
];

const pointsE = [
  [8.76,1.22],[8.82,0.96],[9.0,1.78],[9.23,1.78],[9.24,1.52],[9.32,1.48],[9.56,1.74],[9.79,1.37],[9.84,1.3],[10.32,1.85],
  [10.31,1.67],[10.63,2.22],[10.84,1.33],[10.96,1.67],[10.06,1.3],[10.27,1.22],
  [9.08,-1.0],[9.15,-1.41],[9.05,-1.96],[9.14,-2.48],[9.24,-1.07],[9.35,-1.07],[9.4,-1.59],[9.48,-1.67],[9.57,-1.19],[9.61,-0.89],
  [9.69,-0.93],[9.71,-1.41],[9.76,-1.19],[9.83,-0.96],[9.9,-2.0],[10.15,-1.59],[10.39,-1.22],[10.58,-1.19],[10.69,-1.04],[10.71,-1.3],
  [10.69,-2.37],[10.77,-1.59],
  [12.28,-1.11],[13.09,-1.52],[12.08,-2.56],[11.93,-4.0],[12.46,-4.15],
  [13.55,0.07],[13.76,0.15],[13.88,0.22],[13.91,0.37],[14.31,0.07],[14.4,0.15],[13.41,-0.33],[13.6,-0.3],[12.92,-0.33],[12.98,-0.33],
  [13.08,-0.33],[13.2,0.07],[13.27,-0.15],[13.25,-0.3],[12.84,-0.04],[12.66,0.07],[12.65,-0.33],[12.47,-0.55],[12.3,-0.63],[12.27,-0.7],
  [12.11,-0.59],[12.09,-0.48],[12.04,-0.37],[11.72,-0.67],[11.22,-0.85],[11.29,-0.85],[11.34,-0.7],
  [11.15,0.95],[11.3,0.9],[11.4,1.15],[11.55,1.15],[11.65,1.0],[11.85,0.9],[12.1,1.5],[12.2,0.85],[12.3,1.6],[12.4,1.35],
  [12.55,1.45],[12.65,1.25],[12.95,1.6],[13.05,1.0],[12.75,0.5],[13.0,0.3],
  [8.97,0.2],[8.98,-0.3],[9.0,0.5],[9.01,-0.6],[9.03,0.0],[9.04,-0.2],[9.06,0.35],[9.07,-0.45],[9.09,0.1],[9.1,-0.8],
  [9.12,0.25],[9.13,-0.1],[9.15,0.6],[9.16,-0.35],[9.18,0.05],[9.19,-0.55],[9.21,0.4],[9.22,-0.25],[9.24,0.15],[9.25,-0.7],
  [9.27,0.3],[9.28,-0.05],[9.3,0.7],[9.31,-0.4],[9.33,0.2],[9.34,-0.15],[9.36,0.45],[9.37,-0.6],[9.39,0.1],[9.4,-0.3],
  [9.42,0.55],[9.43,-0.85],[9.45,0.25],[9.46,-0.1],[9.48,0.35],[9.49,-0.45],[9.51,0.05],[9.52,0.8],[9.54,-0.2],[9.55,0.3],
  [9.57,-0.65],[9.58,0.15],[9.6,-0.35],[9.61,0.5],[9.63,-0.05],[9.64,0.2],[9.66,-0.5],[9.67,0.4],[9.69,-0.2],[9.7,0.05],
  [9.72,0.6],[9.73,-0.4],[9.75,0.25],[9.76,-0.75],[9.78,0.1],[9.8,-0.15],[9.82,0.45],[9.84,-0.35],[9.86,0.15],[9.88,-0.6],
  [9.9,0.3],[9.92,-0.1],[9.94,0.55],[9.96,-0.45],[9.98,0.05],[10.0,0.35],[10.02,-0.25],[10.04,0.7],[10.06,-0.55],[10.08,0.2],
  [10.1,-0.15],[10.12,0.4],[10.14,-0.4],[10.16,0.1],[10.18,-0.7],[10.2,0.3],[10.22,-0.05],[10.24,0.5],[10.26,-0.3],[10.28,0.2],
  [10.3,-0.5],[10.32,0.05],[10.34,0.65],[10.36,-0.2],[10.38,0.25],[10.4,-0.6],[10.42,0.4],[10.44,-0.1],[10.46,0.15],[10.48,-0.4],
  [10.5,0.55],[10.53,-0.25],[10.56,0.3],[10.59,-0.55],[10.62,0.1],[10.65,0.45],[10.68,-0.3],[10.71,0.2],[10.74,-0.65],[10.77,0.35],
  [10.8,-0.1],[10.83,0.6],[10.86,-0.4],[10.89,0.15],[10.92,-0.2],[10.95,0.4],[10.98,-0.5],
  [11.02,0.25],[11.06,-0.35],[11.1,0.5],[11.14,-0.1],[11.18,0.3],[11.22,-0.55],[11.26,0.15],[11.3,0.6],[11.34,-0.3],[11.38,0.05],
  [11.42,0.4],[11.46,-0.45],[11.5,0.2],[11.54,-0.15],[11.58,0.55],[11.62,-0.4],[11.66,0.1],[11.7,0.35],[11.74,-0.25],[11.78,0.65],
  [11.82,-0.05],[11.86,0.3],[11.9,-0.5],[11.94,0.15],[11.98,-0.2],[12.02,0.45],[12.06,-0.35],[12.1,0.1],[12.14,0.6],[12.18,-0.1],
  [12.22,0.3],[12.26,-0.45],[12.3,0.2],[12.35,-0.15],[12.4,0.4],[12.45,-0.3],[12.5,0.1],[12.55,0.55],[12.6,-0.2]
];
const denseE = [
  [8.955,-0.1],[8.975,0.35],[8.995,-0.45],[9.015,0.15],[9.035,-0.3],[9.055,0.05],[9.075,0.45],[9.095,-0.55],[9.115,-0.05],[9.135,0.3],
  [9.155,-0.35],[9.175,0.2],[9.195,-0.15],[9.215,0.5],[9.235,-0.45],[9.255,0.1],[9.275,-0.25],[9.295,0.35],[9.315,-0.6],[9.335,0.05],
  [9.355,-0.2],[9.375,0.3],[9.395,-0.5],[9.415,0.2],[9.435,0.0],[9.455,-0.35],[9.475,0.5],[9.495,-0.15],[9.515,0.25],[9.535,-0.45],
  [9.555,0.1],[9.575,-0.25],[9.595,0.4],[9.615,-0.55],[9.635,0.15],[9.655,-0.1],[9.675,0.3],[9.695,-0.4],[9.715,0.05],[9.735,0.45],
  [9.755,-0.3],[9.775,0.2],[9.795,-0.5],[9.815,0.1],[9.835,-0.2],[9.855,0.35],[9.875,-0.05],[9.895,-0.45],[9.915,0.25],[9.935,-0.3],
  [9.955,0.15],[9.975,-0.6],[9.995,0.45],[10.015,-0.1],[10.035,0.2],[10.055,-0.35],[10.075,0.05],[10.095,0.4],[10.115,-0.5],[10.135,0.15],
  [10.155,-0.2],[10.175,0.3],[10.195,-0.4],[10.215,0.1],[10.235,-0.15],[10.255,0.45],[10.275,-0.55],[10.295,0.2],[10.315,-0.25],[10.335,0.05],
  [10.355,0.35],[10.375,-0.45],[10.395,0.15],[10.415,-0.1],[10.435,0.3],[10.455,-0.35],[10.475,0.1],[10.495,-0.6],[10.515,0.4],[10.545,-0.15],
  [10.575,0.2],[10.605,-0.4],[10.635,0.3],[10.665,-0.1],[10.695,0.15],[10.725,-0.35],[10.755,0.5],[10.785,-0.25],[10.815,0.1],[10.845,-0.5],
  [10.875,0.35],[10.905,-0.05],[10.935,0.2],[10.965,-0.35],[10.995,0.1],
  [8.962,0.08],[8.984,-0.42],[9.006,0.28],[9.028,-0.18],[9.05,-0.58],[9.072,0.18],[9.094,-0.28],[9.116,0.38],[9.138,-0.48],[9.16,0.02],
  [9.182,-0.22],[9.204,0.32],[9.226,-0.62],[9.248,0.12],[9.27,-0.38],[9.292,0.22],[9.314,-0.12],[9.336,0.42],[9.358,-0.52],[9.38,0.08],
  [9.402,-0.22],[9.424,0.28],[9.446,-0.42],[9.468,0.18],[9.49,-0.08],[9.512,0.38],[9.534,-0.62],[9.556,0.02],[9.578,-0.32],[9.6,0.22],
  [9.622,-0.18],[9.644,0.48],[9.666,-0.38],[9.688,0.12],[9.71,-0.52],[9.732,0.28],[9.754,-0.08],[9.776,0.18],[9.798,-0.32],[9.82,0.38],
  [9.842,-0.48],[9.864,0.02],[9.886,-0.18],[9.908,0.32],[9.93,-0.42],[9.952,0.12],[9.974,-0.22],[9.996,0.22],[10.018,-0.58],[10.04,0.08],
  [10.062,-0.12],[10.084,0.42],[10.106,-0.32],[10.128,0.18],[10.15,-0.48],[10.172,0.02],[10.194,0.28],[10.216,-0.28],[10.238,0.12],[10.26,-0.42],
  [10.282,0.38],[10.304,-0.12],[10.326,0.22],[10.348,-0.52],[10.37,0.08],[10.392,-0.22],[10.414,0.32],[10.436,-0.38],[10.458,0.18],[10.48,-0.08],
  [10.52,0.28],[10.56,-0.42],[10.6,0.12],[10.64,-0.22],[10.68,0.38],[10.72,-0.12],[10.76,0.18],[10.8,-0.42],[10.84,0.28],[10.88,-0.18],
  [10.92,0.08],[10.96,-0.28]
];

// lowess fit curves (A, M); null breaks the curve where the fit has no data
const lowessA = [[8.73, 0.02], [14.39, 0.0]];
const lowessB = [[8.88, 0.05], [10.5, 0.05], [12.5, 0.04], [14.24, 0.04]];
const lowessC = [[9.0, 0.03], [12.75, 0.03], [12.85, null], [12.95, 0.05], [13.35, 0.05], [13.5, null], [13.75, -0.03], [14.3, -0.03]];
const lowessD = [[8.8, 0.03], [11.0, 0.03], [14.1, 0.03]];
const lowessE = [[8.78, 0.05], [11.0, 0.05], [14.4, 0.05]];

const allPoints = [
  pointsA.concat(denseA), pointsB.concat(denseB), pointsC.concat(denseC),
  pointsD.concat(denseD), pointsE.concat(denseE)
];
const allLowess = [lowessA, lowessB, lowessC, lowessD, lowessE];

// page geometry of each panel (box top/bottom, plot left/top/bottom, text anchors)
const BOX_LEFT = 71, BOX_W = 720, PLOT_RIGHT = 787;
const layout = [
  { box: [5, 292], plot: [116, 25, 243], letter: [2, 34], yTitleX: 86, xTitleY: 283, xLabelY: 263, yLabelRight: 106 },
  { box: [310, 605], plot: [125, 331, 556], letter: [7, 309], yTitleX: 85, xTitleY: 594, xLabelY: 575, yLabelRight: 115 },
  { box: [628, 907], plot: [127, 648, 858], letter: [7, 641], yTitleX: 86, xTitleY: 894, xLabelY: 874, yLabelRight: 115 },
  { box: [943, 1239], plot: [125, 964, 1192], letter: [7, 946], yTitleX: 86.5, xTitleY: 1232, xLabelY: 1212, yLabelRight: 115 },
  { box: [1268, 1570], plot: [127, 1292, 1517], letter: [7, 1271], yTitleX: 86.5, xTitleY: 1559, xLabelY: 1537, yLabelRight: 115 }
];

const FONT = '"DejaVu Sans", Verdana, sans-serif';
const TICK_LEN = 8;
const HALF_LINE = 7.8; // 13px * 1.2 / 2

Chart.defaults.font.family = FONT;
Chart.defaults.font.size = 13;

const near = (a, b) => Math.abs(a - b) < 1e-6;

// the source program draws its text a little wider than DejaVu Sans
const textSpacing = {
  id: "textSpacing",
  beforeDraw(chart) {
    chart.ctx.letterSpacing = "0.9px";
  }
};

const plotFrame = {
  id: "plotFrame",
  afterDatasetsDraw(chart) {
    const { ctx, chartArea: a } = chart;
    ctx.save();
    ctx.strokeStyle = "#1a1a1a";
    ctx.lineWidth = 1;
    ctx.beginPath();
    ctx.moveTo(a.left, a.top + 0.5);
    ctx.lineTo(a.right, a.top + 0.5);
    ctx.stroke();
    ctx.strokeStyle = "#6a6a6a";
    ctx.lineWidth = 2;
    ctx.beginPath();
    ctx.moveTo(a.right - 1, a.top);
    ctx.lineTo(a.right - 1, a.bottom);
    ctx.stroke();
    ctx.restore();
  }
};

function buildPanel(i) {
  const L = layout[i];
  const [boxTop, boxBottom] = L.box;
  const [plotLeft, plotTop, plotBottom] = L.plot;
  const [xMin, xMax] = xRanges[i];
  const [yMin, yMax] = yRanges[i];
  const yLabels = yTickLabels[i];
  const isXMajor = (v) => xTickLabels.some((t) => near(t, v));
  const isYMajor = (v) => yLabels.some((t) => near(t, v));

  const wrap = document.createElement("div");
  wrap.className = "panel";
  wrap.style.top = boxTop + "px";
  wrap.style.height = (boxBottom - boxTop) + "px";
  const canvas = document.createElement("canvas");
  canvas.width = BOX_W;
  canvas.height = boxBottom - boxTop;
  wrap.appendChild(canvas);
  const frame = document.createElement("div");
  frame.className = "frame";
  wrap.appendChild(frame);
  document.body.appendChild(wrap);

  const letter = document.createElement("div");
  letter.className = "letter";
  letter.textContent = panelLetters[i];
  letter.style.left = L.letter[0] + "px";
  letter.style.top = L.letter[1] + "px";
  document.body.appendChild(letter);

  const yAxisW = plotLeft - BOX_LEFT;
  const xAxisH = boxBottom - plotBottom;
  const T = plotTop - boxTop;

  return new Chart(canvas, {
    type: "scatter",
    data: {
      datasets: [
        {
          type: "line",
          data: allLowess[i].map(([x, y]) => ({ x, y })),
          borderColor: "#858585",
          borderWidth: 3,
          pointRadius: 0,
          spanGaps: false,
          order: 0
        },
        {
          type: "line",
          data: [{ x: xMin, y: 0 }, { x: xMax, y: 0 }],
          borderColor: "#a2a2a2",
          borderWidth: 2.5,
          pointRadius: 0,
          order: 1
        },
        {
          data: allPoints[i].map(([x, y]) => ({ x, y })),
          pointStyle: "cross",
          pointRadius: 2.8,
          borderWidth: 2,
          borderColor: "#3d3d3d",
          backgroundColor: "#3d3d3d",
          order: 2
        }
      ]
    },
    options: {
      responsive: false,
      animation: false,
      events: [],
      layout: { padding: { left: 0, top: 0, bottom: 0, right: BOX_LEFT + BOX_W - PLOT_RIGHT } },
      plugins: {
        legend: { display: false },
        tooltip: { enabled: false },
        title: {
          display: true,
          text: TITLE,
          fullSize: false,
          color: "#1e1e1e",
          font: { family: FONT, size: 13, weight: "normal" },
          padding: { top: T - 14.5, bottom: -1.1 }
        }
      },
      scales: {
        x: {
          type: "linear",
          position: "bottom",
          min: xMin,
          max: xMax,
          afterFit(scale) { scale.height = xAxisH; },
          ticks: {
            stepSize: 0.2,
            autoSkip: false,
            includeBounds: false,
            maxRotation: 0,
            color: "#333",
            padding: L.xLabelY - plotBottom - TICK_LEN - HALF_LINE,
            callback: (v) => (isXMajor(v) ? String(Math.round(v)) : "")
          },
          grid: {
            color: (c) => (c.tick && isXMajor(c.tick.value) ? "#e7e7e7" : "#d0d0d0"),
            lineWidth: (c) => (c.tick && isXMajor(c.tick.value) ? 2 : 1),
            tickLength: TICK_LEN,
            tickColor: "#4a4a4a",
            tickWidth: 1.3,
            tickBorderDash: (c) => (c.tick && isXMajor(c.tick.value) ? [] : [4, 30])
          },
          border: {
            display: true,
            color: "#575757",
            width: 2,
            dash: (c) => (c.tick && !isXMajor(c.tick.value) ? [3, 3] : [])
          },
          title: {
            display: true,
            text: X_TITLE,
            color: "#333",
            font: { family: FONT, size: 13 },
            padding: { top: 0, bottom: boxBottom - HALF_LINE - L.xTitleY }
          }
        },
        y: {
          min: yMin,
          max: yMax,
          afterFit(scale) { scale.width = yAxisW; },
          ticks: {
            stepSize: 1,
            autoSkip: false,
            includeBounds: false,
            color: "#333",
            padding: plotLeft - L.yLabelRight - TICK_LEN,
            callback: (v) => (isYMajor(v) ? String(Math.round(v)) : "")
          },
          grid: {
            color: (c) => (c.tick && isYMajor(c.tick.value) ? "#e7e7e7" : "#d0d0d0"),
            lineWidth: (c) => (c.tick && isYMajor(c.tick.value) ? 2 : 1),
            tickLength: TICK_LEN,
            tickColor: "#4a4a4a",
            tickWidth: 1.3,
            tickBorderDash: (c) => (c.tick && isYMajor(c.tick.value) ? [] : [0, 3, 4, 30])
          },
          border: {
            display: true,
            color: "#575757",
            width: 2,
            dash: (c) => (c.tick && !isYMajor(c.tick.value) ? [3, 3] : [])
          },
          title: {
            display: true,
            text: Y_TITLE,
            color: "#333",
            font: { family: FONT, size: 13 },
            padding: { top: L.yTitleX - BOX_LEFT - HALF_LINE, bottom: 0 }
          }
        }
      }
    },
    plugins: [textSpacing, plotFrame]
  });
}

for (let i = 0; i < layout.length; i++) {
  buildPanel(i);
}
</script>
</body>
</html>
